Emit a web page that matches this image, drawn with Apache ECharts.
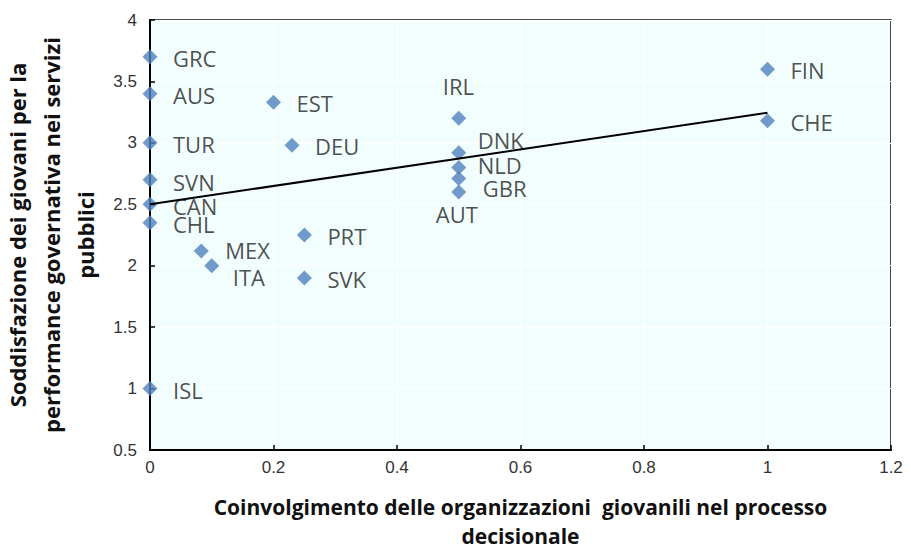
<!DOCTYPE html>
<html>
<head>
<meta charset="utf-8">
<script src="https://cdn.jsdelivr.net/npm/echarts@6/dist/echarts.min.js"></script>
<style>
  html, body { margin: 0; padding: 0; background: #fff; }
  #chart { width: 911px; height: 551px; }
</style>
</head>
<body>
<div id="chart"></div>
<script>
// dati: paesi, coinvolgimento (x), soddisfazione (y)
var countries = ['GRC', 'AUS', 'TUR', 'SVN', 'CAN', 'CHL', 'ISL', 'EST', 'DEU', 'PRT', 'SVK', 'MEX', 'ITA', 'IRL', 'DNK', 'NLD', 'GBR', 'AUT', 'FIN', 'CHE'];
var involvement = [0, 0, 0, 0, 0, 0, 0, 0.2, 0.23, 0.25, 0.25, 0.083, 0.1, 0.5, 0.5, 0.5, 0.5, 0.5, 1, 1];
var satisfaction = [3.7, 3.4, 3.0, 2.7, 2.5, 2.35, 1.0, 3.33, 2.98, 2.25, 1.9, 2.12, 2.0, 3.2, 2.92, 2.8, 2.71, 2.6, 3.6, 3.18];
// retta di tendenza (estremi)
var trendX = [0, 1];
var trendY = [2.5, 3.245];

// posizione etichette [dx, dy] rispetto al punto
var labelOffsets = {
  IRL: [-16, -32], DNK: [19, -13], NLD: [19, -2], GBR: [24, 10],
  AUT: [-23, 22], MEX: [24, -1], ITA: [21, 11], SVN: [23, 2], CAN: [23, 2], CHL: [23, 1]
};

var chart = echarts.init(document.getElementById('chart'), null, { renderer: 'svg' });

var points = countries.map(function (c, i) {
  var off = labelOffsets[c] || [23, 1];
  return {
    name: c,
    value: [involvement[i], satisfaction[i]],
    label: { offset: off }
  };
});

var trend = trendX.map(function (x, i) { return [x, trendY[i]]; });

var tickFont = { color: '#333', fontSize: 17, fontFamily: 'Liberation Sans Narrow, Liberation Sans, Arial' };

chart.setOption({
  animation: false,
  backgroundColor: '#fff',
  grid: {
    left: 150, top: 20, right: 20, bottom: 101,
    containLabel: false, outerBoundsMode: 'none',
    show: true, backgroundColor: '#f2fefe', borderColor: '#111', borderWidth: 1.5
  },
  xAxis: {
    type: 'value',
    min: 0, max: 1.2, interval: 0.2,
    axisLine: { show: true, onZero: false, lineStyle: { color: '#000', width: 2 } },
    axisTick: { show: true, inside: true, length: 5, lineStyle: { color: '#000', width: 1.5 } },
    axisLabel: Object.assign({ margin: 9 }, tickFont),
    splitLine: { show: true, lineStyle: { color: '#ffffff', width: 1 } },
    name: 'Coinvolgimento delle organizzazioni  giovanili nel processo\ndecisionale',
    nameLocation: 'middle',
    nameGap: 42,
    nameTextStyle: { color: '#111', fontSize: 21, fontWeight: 'bold', fontFamily: 'Open Sans', lineHeight: 29 }
  },
  yAxis: {
    type: 'value',
    min: 0.5, max: 4, interval: 0.5,
    axisLine: { show: true, onZero: false, lineStyle: { color: '#000', width: 2 } },
    axisTick: { show: true, inside: true, length: 5, lineStyle: { color: '#000', width: 1.5 } },
    axisLabel: Object.assign({ margin: 13 }, tickFont),
    splitLine: { show: true, lineStyle: { color: '#ffffff', width: 1 } },
    name: 'Soddisfazione dei giovani per la\nperformance governativa nei servizi\npubblici',
    nameLocation: 'middle',
    nameRotate: 90,
    nameGap: 40,
    nameTextStyle: { color: '#111', fontSize: 22, fontWeight: 'bold', fontFamily: 'Open Sans', lineHeight: 34 }
  },
  series: [
    {
      type: 'line',
      data: trend,
      symbol: 'none',
      lineStyle: { color: '#000', width: 2 },
      z: 3
    },
    {
      type: 'scatter',
      data: points,
      symbol: 'diamond',
      symbolSize: [15, 15],
      itemStyle: { color: '#4f81bd' },
      label: {
        show: true,
        position: 'inside',
        align: 'left',
        formatter: '{b}',
        color: '#222',
        fontSize: 22,
        fontFamily: 'Open Sans'
      },
      z: 2
    }
  ]
});
</script>
</body>
</html>
